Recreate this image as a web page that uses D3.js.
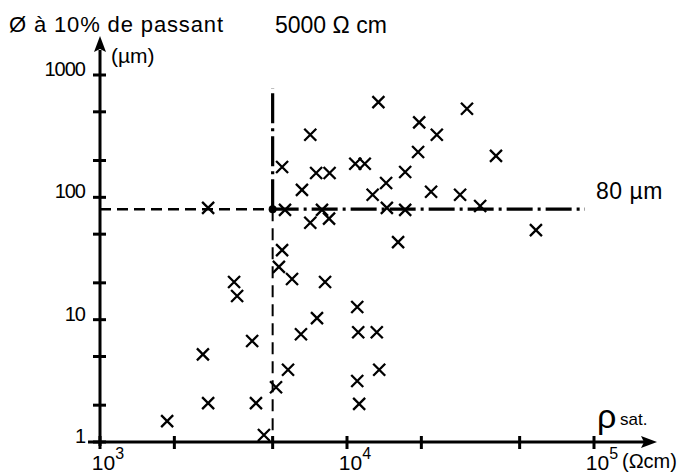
<!DOCTYPE html>
<html>
<head>
<meta charset="utf-8">
<script src="https://cdn.jsdelivr.net/npm/d3@7"></script>
<style>
body { margin: 0; background: #fff; }
text { font-family: "Liberation Sans", Arial, sans-serif; fill: #000; }
</style>
</head>
<body>
<svg id="chart" width="696" height="476"></svg>
<script>
// resistivity at saturation (ohm.cm) and 10% passing diameter (um)
const rho = [13400, 30600, 19600, 23100, 7100, 19400, 40100, 5460, 10800, 11800,
             7500, 8500, 17200, 14400, 6570, 12700, 21900, 28700, 2740, 5610,
             7920, 14500, 17200, 34600, 7100, 8460, 58200, 16100, 5460, 5300,
             5990, 8150, 3490, 3590, 11000, 7560, 6510, 11100, 13200, 4130,
             2610, 5770, 13500, 11000, 5160, 2740, 4280, 11200, 1870, 4610];
const diam = [600, 530, 410, 325, 325, 235, 218, 177, 188, 188,
              158, 158, 161, 131, 115, 105, 111, 105, 82, 79,
              79, 82, 79, 85, 62, 67, 54, 43, 37, 27,
              21.5, 20.3, 20.3, 15.6, 12.7, 10.3, 7.6, 7.9, 7.9, 6.7,
              5.2, 3.9, 3.9, 3.15, 2.8, 2.08, 2.08, 2.05, 1.48, 1.14];

const xTicks = [1000, 2000, 5000, 10000, 20000, 50000, 100000];
const yTicks = [1, 2, 5, 10, 20, 50, 100, 200, 500, 1000];
const yLabels = [1, 10, 100, 1000];
const xLabels = [1000, 10000, 100000];
const rhoLimit = 5000;
const diamLimit = 80;

const svg = d3.select("#chart");

const x = d3.scaleLog().domain([1000, 100000]).range([100, 594]);
const y = d3.scaleLog().domain([1, 1000]).range([442, 75]);

//reference lines
const xl = x(rhoLimit), yl = y(diamLimit);
svg.append("line")
    .attr("x1", x(1000)).attr("x2", xl)
    .attr("y1", yl).attr("y2", yl)
    .attr("stroke", "#000").attr("stroke-width", 2.5)
    .attr("stroke-dasharray", "11,6");
svg.append("line")
    .attr("x1", xl).attr("x2", 585)
    .attr("y1", yl).attr("y2", yl)
    .attr("stroke", "#000").attr("stroke-width", 3.2)
    .attr("stroke-dasharray", "26,5,3,5");
svg.append("line")
    .attr("x1", xl).attr("x2", xl)
    .attr("y1", yl).attr("y2", y(1))
    .attr("stroke", "#000").attr("stroke-width", 2)
    .attr("stroke-dasharray", "12,7");
svg.append("line")
    .attr("x1", xl).attr("x2", xl)
    .attr("y1", yl).attr("y2", 88)
    .attr("stroke", "#000").attr("stroke-width", 3.2)
    .attr("stroke-dasharray", "30,5,3,5");
svg.append("circle")
    .attr("cx", xl).attr("cy", yl).attr("r", 4).attr("fill", "#000");

//axes
svg.append("line")
    .attr("x1", 88).attr("x2", 645)
    .attr("y1", y(1)).attr("y2", y(1))
    .attr("stroke", "#000").attr("stroke-width", 3);
svg.append("path")
    .attr("d", `M657,${y(1)} L641,${y(1) - 6} L644,${y(1)} L641,${y(1) + 6} Z`)
    .attr("fill", "#000");
svg.append("line")
    .attr("x1", x(1000)).attr("x2", x(1000))
    .attr("y1", y(1) + 4).attr("y2", 50)
    .attr("stroke", "#000").attr("stroke-width", 3);
svg.append("path")
    .attr("d", `M${x(1000)},36 L${x(1000) - 6},52 L${x(1000)},49 L${x(1000) + 6},52 Z`)
    .attr("fill", "#000");

svg.selectAll("line.xtick")
    .data(xTicks)
    .enter()
    .append("line")
    .attr("class", "xtick")
    .attr("x1", (d) => x(d)).attr("x2", (d) => x(d))
    .attr("y1", y(1) - 6).attr("y2", y(1) + 7)
    .attr("stroke", "#000").attr("stroke-width", 3);

svg.selectAll("line.ytick")
    .data(yTicks)
    .enter()
    .append("line")
    .attr("class", "ytick")
    .attr("x1", x(1000) - 7).attr("x2", x(1000) + 6)
    .attr("y1", (d) => y(d)).attr("y2", (d) => y(d))
    .attr("stroke", "#000").attr("stroke-width", 3);

//tick labels
svg.selectAll("text.ylab")
    .data(yLabels)
    .enter()
    .append("text")
    .attr("class", "ylab")
    .attr("x", 85)
    .attr("y", (d) => y(d) + 1)
    .attr("text-anchor", "end")
    .attr("font-size", 20)
    .attr("letter-spacing", -1)
    .text((d) => d);

const xl_txt = svg.selectAll("text.xlab")
    .data(xLabels)
    .enter()
    .append("text")
    .attr("class", "xlab")
    .attr("x", (d) => x(d) + 8)
    .attr("y", 470)
    .attr("text-anchor", "middle")
    .attr("font-size", 21);
xl_txt.append("tspan").text("10");
xl_txt.append("tspan")
    .attr("dy", -11)
    .attr("font-size", 16)
    .text((d) => Math.round(Math.log10(d)));

//data points
svg.selectAll("path.pt")
    .data(rho)
    .enter()
    .append("path")
    .attr("class", "pt")
    .attr("transform", (d, i) => `translate(${x(d)},${y(diam[i])})`)
    .attr("d", "M-6,-6L6,6M-6,6L6,-6")
    .attr("stroke", "#000")
    .attr("stroke-width", 2.3)
    .attr("fill", "none");

//titles
svg.append("text")
    .attr("x", 9).attr("y", 32)
    .attr("font-size", 22)
    .attr("textLength", 214)
    .text("Ø à 10% de passant");
svg.append("text")
    .attr("x", 111).attr("y", 63)
    .attr("font-size", 21)
    .text("(µm)");
svg.append("text")
    .attr("x", 275).attr("y", 33)
    .attr("font-size", 23)
    .text("5000 Ω cm");
svg.append("text")
    .attr("x", 596).attr("y", 199)
    .attr("font-size", 23)
    .attr("letter-spacing", 0.5)
    .text("80 µm");
svg.append("text")
    .attr("x", 622).attr("y", 468)
    .attr("font-size", 20)
    .text("(Ωcm)");
svg.append("text")
    .attr("x", 597).attr("y", 428)
    .attr("font-size", 34)
    .text("ρ");
svg.append("text")
    .attr("x", 620).attr("y", 425)
    .attr("font-size", 17)
    .text("sat.");
</script>
</body>
</html>
